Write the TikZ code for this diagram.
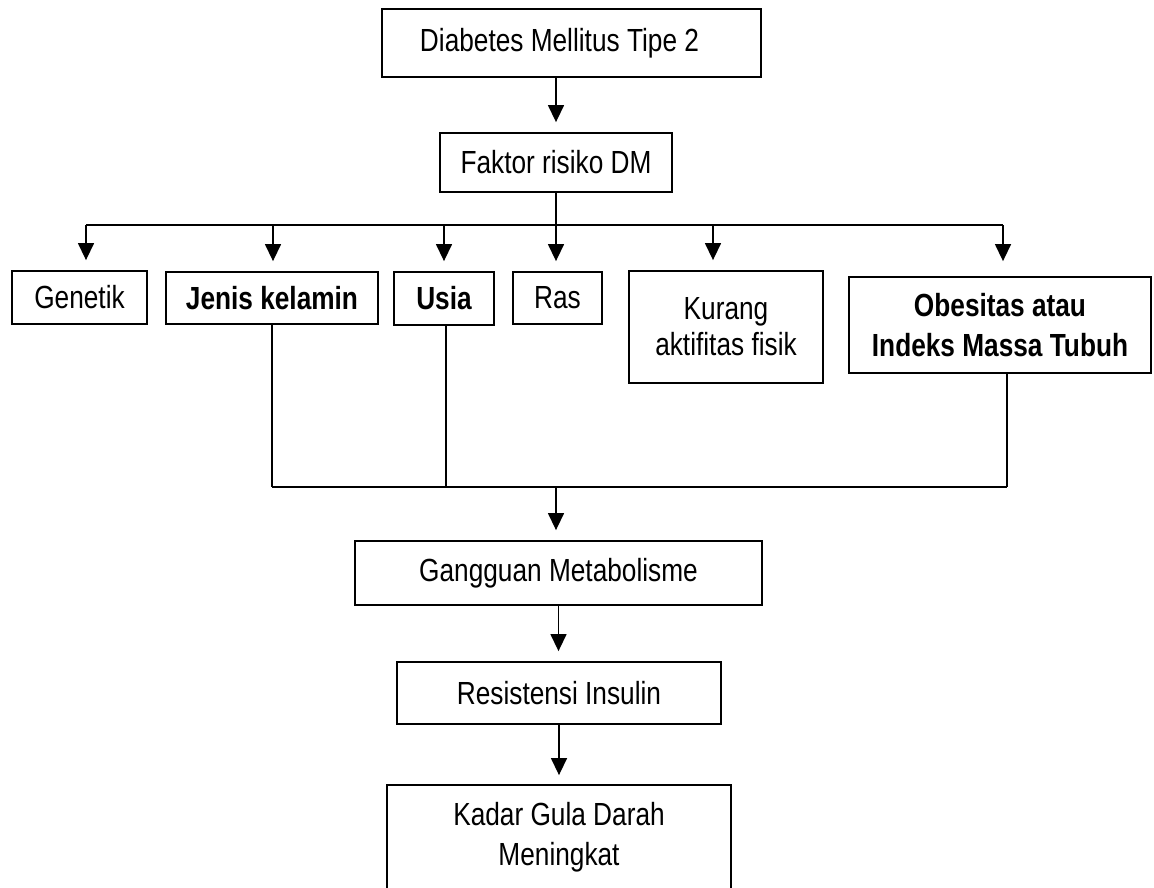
\documentclass[tikz,border=0pt]{standalone}
\usepackage{fontspec}
\setmainfont{Liberation Sans}[FakeStretch=0.82]
\usetikzlibrary{arrows.meta}
\begin{document}
\begin{tikzpicture}[x=1pt,y=-1pt,
  box/.style={draw=black, line width=1.8pt, inner sep=0pt, align=center, font=\fontsize{32}{38}\selectfont},
  conn/.style={line width=1.4pt},
  arr/.style={conn, -{Triangle[length=17pt,width=16pt]}, shorten >=10pt}]
\useasboundingbox (0,0) rectangle (1154,888);
\node[box, minimum width=379pt, minimum height=68pt] (diab) at (571.5,43) {Diabetes Mellitus Tipe 2\hspace*{24pt}};
\node[box, minimum width=232pt, minimum height=59pt] (fak) at (556,162.5) {Faktor risiko DM};
\node[box, minimum width=135pt, minimum height=53pt] (gen) at (79.5,297.5) {Genetik};
\node[box, minimum width=212pt, minimum height=52pt] (jen) at (272,298) {\bfseries Jenis kelamin};
\node[box, minimum width=100pt, minimum height=53pt] (usia) at (444,298.5) {\bfseries Usia};
\node[box, minimum width=89pt, minimum height=52pt] (ras) at (557.5,298) {Ras};
\node[box, minimum width=194pt, minimum height=112pt, font=\fontsize{32}{36}\selectfont] (kur) at (726,327) {Kurang\\aktifitas fisik};
\node[box, minimum width=302pt, minimum height=96pt, font=\fontsize{32}{40}\selectfont\bfseries] (obe) at (1000,325) {Obesitas atau\\Indeks Massa Tubuh};
\node[box, minimum width=407pt, minimum height=64pt] (gang) at (558.5,573) {Gangguan Metabolisme};
\node[box, minimum width=324pt, minimum height=62pt] (res) at (559,693) {Resistensi Insulin};
\node[box, draw=none, minimum width=342pt, minimum height=102pt, font=\fontsize{32}{40}\selectfont] (kad) at (559,837) {Kadar Gula Darah\\Meningkat};
\draw[line width=1.8pt] (kad.south west) -- (kad.north west) -- (kad.north east) -- (kad.south east);
% top connectors
\draw[arr] (fak.north |- diab.south) -- (fak.north);
\draw[arr] (fak.south) -- (fak.south |- ras.north);
\coordinate (bL) at (86,225);
\coordinate (bR) at (1003,225);
\coordinate (dJ) at (273,225);
\coordinate (dU) at (444,225);
\coordinate (dK) at (713,225);
\draw[conn] (bL) -- (bR);
\draw[arr] (bL) -- (bL |- gen.north);
\draw[arr] (dJ) -- (dJ |- jen.north);
\draw[arr] (dU) -- (dU |- usia.north);
\draw[arr] (dK) -- (dK |- kur.north);
\draw[arr, shorten >=15pt] (bR) -- (bR |- obe.north);
% bottom connectors
\coordinate (cL) at (272,487);
\coordinate (cR) at (1007,487);
\coordinate (cM) at (556,487);
\draw[conn] (jen.south) -- (jen.south |- cL);
\draw[conn] ([xshift=2pt]usia.south) -- ([xshift=2pt]usia.south |- cL);
\draw[conn] (cR |- obe.south) -- (cR);
\draw[conn] (cL) -- (cR);
\draw[arr] (cM) -- (cM |- gang.north);
\draw[arr] (gang.south) -- (gang.south |- res.north);
\draw[arr] (res.south) -- (res.south |- kad.north);
\end{tikzpicture}
\end{document}
